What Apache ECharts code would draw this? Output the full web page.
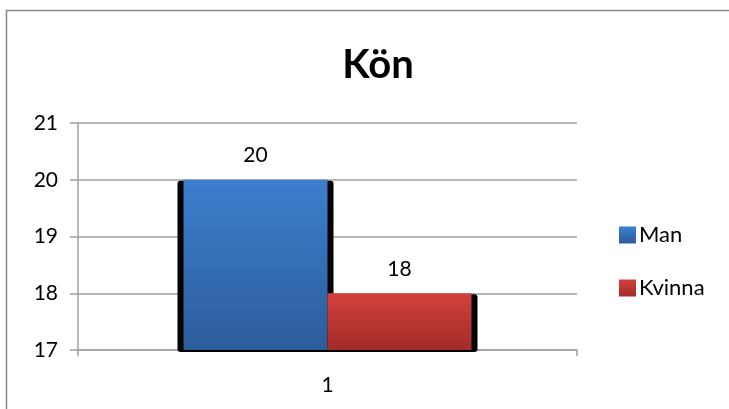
<!DOCTYPE html>
<html><head><meta charset="utf-8">
<script src="https://cdn.jsdelivr.net/npm/echarts@6/dist/echarts.min.js"></script>
<style>html,body{margin:0;padding:0;background:#fff}#c{width:729px;height:409px}</style>
</head><body><div id="c"></div>
<script>
const categories = ['1'];
const seriesNames = ['Man', 'Kvinna'];
const manValues = [20];
const kvinnaValues = [18];
const yMin = 17, yMax = 21, yStep = 1;

const FONT = 'Lato, "Open Sans", sans-serif';
const BAR_W = 144;
const blue = new echarts.graphic.LinearGradient(0,0,0,1,[{offset:0,color:'#3c7fce'},{offset:1,color:'#2c5c9a'}]);
const red = new echarts.graphic.LinearGradient(0,0,0,1,[{offset:0,color:'#d2413d'},{offset:1,color:'#a32b28'}]);

const chart = echarts.init(document.getElementById('c'));

function shadowRender(params, api) {
  const vals = [api.value(1), api.value(2)];
  const shapes = [];
  vals.forEach((v, i) => {
    const top = api.coord([api.value(0), v]);
    const base = api.coord([api.value(0), yMin]);
    const left = top[0] - BAR_W + i * BAR_W;
    shapes.push({
      type: 'rect',
      shape: { x: left - 6, y: top[1] + 1, width: BAR_W + 12, height: base[1] - top[1] + 1, r: 3 },
      style: { fill: '#000' }
    });
  });
  return { type: 'group', children: shapes };
}

chart.setOption({
  animation: false,
  title: {
    text: 'Kön', left: 373, top: 40, textAlign: 'center',
    textStyle: { fontFamily: FONT, fontWeight: 'bold', fontSize: 40, color: '#000' }
  },
  graphic: [{
    type: 'rect', silent: true, z: -10,
    shape: { x: 6.5, y: 10.5, width: 760, height: 420 },
    style: { fill: 'none', stroke: '#8a8a8a', lineWidth: 1.5 }
  }],
  legend: {
    data: seriesNames, orient: 'vertical', left: 614, top: 219, icon: 'rect',
    itemWidth: 17, itemHeight: 17, itemGap: 31, itemStyle: { borderWidth: 0 },
    textStyle: { fontFamily: FONT, fontSize: 22, color: '#000', padding: [0, 0, 0, -2] }
  },
  grid: { left: 78, right: 152, top: 123, bottom: 59 },
  xAxis: {
    type: 'category', data: categories,
    axisLine: { lineStyle: { color: '#a0a0a0', width: 1.5 } },
    axisTick: { show: true, length: 6, lineStyle: { color: '#a0a0a0', width: 1.5 } },
    axisLabel: { fontFamily: FONT, fontSize: 21, color: '#000', margin: 25 }
  },
  yAxis: {
    type: 'value', min: yMin, max: yMax, interval: yStep,
    axisLine: { show: true, lineStyle: { color: '#a0a0a0', width: 1.5 } },
    axisTick: { show: true, length: 8, lineStyle: { color: '#a0a0a0', width: 1.5 } },
    splitLine: { lineStyle: { color: '#a0a0a0', width: 1.5 } },
    axisLabel: { fontFamily: FONT, fontSize: 21, color: '#000', margin: 20 }
  },
  series: [
    {
      type: 'custom', name: 'shadow', silent: true, z: 1,
      renderItem: shadowRender,
      encode: { x: 0, y: [1, 2] },
      data: categories.map((c, i) => [i, manValues[i], kvinnaValues[i]])
    },
    {
      type: 'bar', name: 'Man', data: manValues, barWidth: BAR_W, barGap: '0%', z: 2,
      itemStyle: { color: blue },
      label: { show: true, position: 'top', distance: 14, fontFamily: FONT, fontSize: 21, color: '#000' }
    },
    {
      type: 'bar', name: 'Kvinna', data: kvinnaValues, barWidth: BAR_W, barGap: '0%', z: 2,
      itemStyle: { color: red },
      label: { show: true, position: 'top', distance: 14, fontFamily: FONT, fontSize: 21, color: '#000' }
    }
  ]
});
</script>
</body></html>
